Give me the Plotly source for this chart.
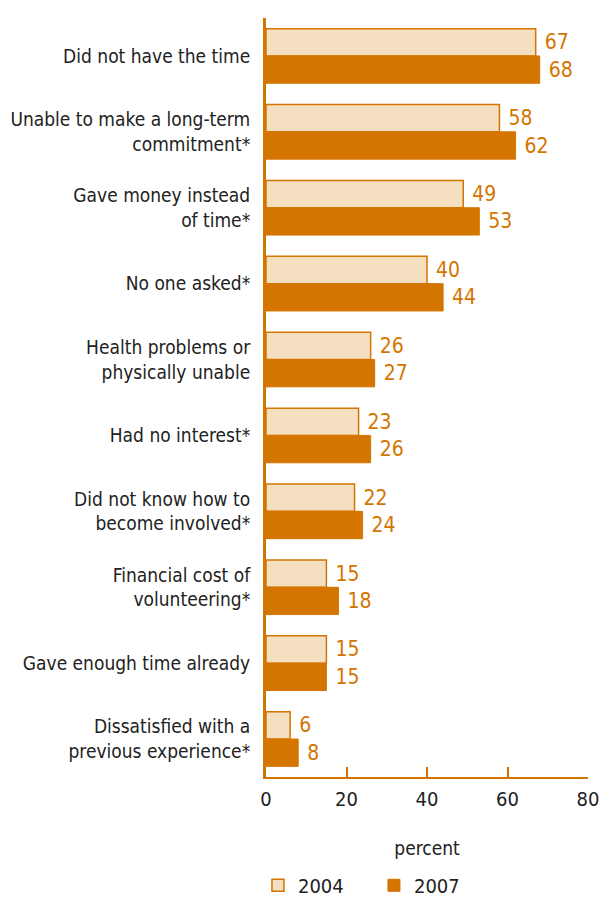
import plotly.graph_objects as go

ORANGE = "#d47500"
LIGHT = "#f4dfc1"
FONT = "Liberation Sans Narrow, DejaVu Sans Condensed, Arial Narrow, sans-serif"

reasons = [
    "Did not have the time",
    "Unable to make a long-term<br>commitment*",
    "Gave money instead<br>of time*",
    "No one asked*",
    "Health problems or<br>physically unable",
    "Had no interest*",
    "Did not know how to<br>become involved*",
    "Financial cost of<br>volunteering*",
    "Gave enough time already",
    "Dissatisfied with a<br>previous experience*",
]
pct_2004 = [67, 58, 49, 40, 26, 23, 22, 15, 15, 6]
pct_2007 = [68, 62, 53, 44, 27, 26, 24, 18, 15, 8]

fig = go.Figure()

fig.add_trace(go.Bar(
    y=reasons, x=pct_2004, name="2004", orientation="h",
    marker=dict(color=LIGHT, line=dict(color=ORANGE, width=1.5)),
    text=pct_2004, texttemplate=" %{x}", textposition="outside", cliponaxis=False,
    textfont=dict(color=ORANGE, size=21, family=FONT),
))
fig.add_trace(go.Bar(
    y=reasons, x=pct_2007, name="2007", orientation="h",
    marker=dict(color=ORANGE, line=dict(color=ORANGE, width=1)),
    text=pct_2007, texttemplate=" %{x}", textposition="outside", cliponaxis=False,
    textfont=dict(color=ORANGE, size=21, family=FONT),
))

fig.update_layout(
    width=603, height=899,
    margin=dict(l=266, r=15, t=18, b=122, autoexpand=False),
    paper_bgcolor="white", plot_bgcolor="white",
    barmode="group", bargap=0.28, bargroupgap=0,
    font=dict(family=FONT, size=19, color="#222222"),
    showlegend=True,
    legend=dict(
        orientation="h", x=-0.025, y=-0.117, xanchor="left", yanchor="top",
        font=dict(size=20, color="#222222"),
        entrywidth=71, entrywidthmode="pixels",
        traceorder="normal",
    ),
)

fig.update_xaxes(
    range=[0, 80], tickvals=[0, 20, 40, 60, 80], automargin=False,
    showgrid=False, zeroline=False,
    showline=True, linecolor=ORANGE, linewidth=2,
    ticks="inside", ticklen=10, tickwidth=2, tickcolor=ORANGE,
    ticklabelstandoff=3,
    tickfont=dict(size=20, color="#222222"),
    title=dict(text="percent", font=dict(size=19, color="#222222"), standoff=32),
)
fig.update_yaxes(
    autorange="reversed", automargin=False, showgrid=False, zeroline=False,
    showline=True, linecolor=ORANGE, linewidth=3,
    ticks="", ticklabelstandoff=9,
    tickfont=dict(size=19, color="#222222"),
)

# drop the default 8px body margin so the figure fills the window exactly
fig.write_html(
    "out.html",
    config={"displayModeBar": False},
    post_script="document.body.style.margin='0';document.body.style.overflow='hidden';",
)
